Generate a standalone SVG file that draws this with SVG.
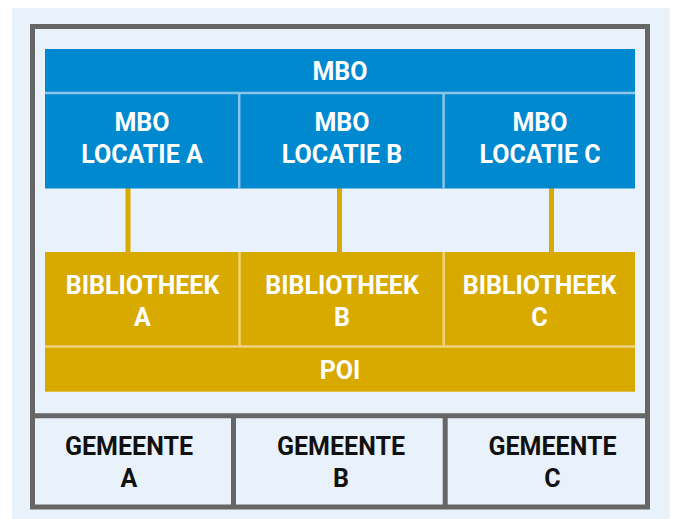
<svg xmlns="http://www.w3.org/2000/svg" width="675" height="519" viewBox="0 0 675 519">
<style>
  .t { font-family: Roboto, "Liberation Sans", sans-serif; font-weight: bold; font-size: 25px; text-anchor: middle; }
  .w { fill: #ffffff; }
  .k { fill: #111111; }
  .blue { fill: #0089cf; }
  .gold { fill: #d8aa00; }
  .sepb { stroke: #8cc4ea; stroke-width: 2.5; fill: none; }
  .sepg { stroke: #efd27c; stroke-width: 2.5; fill: none; }
  .frame { stroke: #666666; stroke-width: 5; fill: none; }
  .conn { stroke: #d8aa00; stroke-width: 5; fill: none; }
</style>
<rect x="0" y="0" width="675" height="519" fill="#ffffff"/>
<rect x="12" y="8" width="658" height="511" fill="#e9f1fa"/>

<g id="frame">
  <rect class="frame" x="32.5" y="26.5" width="615" height="480.5"/>
  <line class="frame" x1="32.5" y1="415.8" x2="647.5" y2="415.8"/>
  <line class="frame" x1="233.5" y1="415.8" x2="233.5" y2="507"/>
  <line class="frame" x1="445.2" y1="415.8" x2="445.2" y2="507"/>
</g>

<g id="connectors">
  <line class="conn" x1="128" y1="188" x2="128" y2="253"/>
  <line class="conn" x1="339.5" y1="188" x2="339.5" y2="253"/>
  <line class="conn" x1="551.5" y1="188" x2="551.5" y2="253"/>
</g>

<g id="mbo">
  <rect class="blue" x="45" y="49" width="590" height="43.5"/>
  <text class="t w" x="340" y="80">MBO</text>
</g>
<g id="mbo-locatie-a">
  <rect class="blue" x="45" y="92.5" width="194" height="96"/>
  <text class="t w" x="142" y="131">MBO</text>
  <text class="t w" x="142" y="163">LOCATIE A</text>
</g>
<g id="mbo-locatie-b">
  <rect class="blue" x="239" y="92.5" width="204.5" height="96"/>
  <text class="t w" x="342" y="131">MBO</text>
  <text class="t w" x="342" y="163">LOCATIE B</text>
</g>
<g id="mbo-locatie-c">
  <rect class="blue" x="443.5" y="92.5" width="191.5" height="96"/>
  <text class="t w" x="540" y="131">MBO</text>
  <text class="t w" x="540" y="163">LOCATIE C</text>
</g>
<g id="blue-separators">
  <line class="sepb" x1="45" y1="93" x2="635" y2="93"/>
  <line class="sepb" x1="239.2" y1="93" x2="239.2" y2="188.5"/>
  <line class="sepb" x1="443.6" y1="93" x2="443.6" y2="188.5"/>
</g>

<g id="bibliotheek-a">
  <rect class="gold" x="45" y="252" width="194" height="95"/>
  <text class="t w" x="142.5" y="293.5">BIBLIOTHEEK</text>
  <text class="t w" x="142.5" y="326">A</text>
</g>
<g id="bibliotheek-b">
  <rect class="gold" x="239" y="252" width="204.5" height="95"/>
  <text class="t w" x="342" y="293.5">BIBLIOTHEEK</text>
  <text class="t w" x="342" y="326">B</text>
</g>
<g id="bibliotheek-c">
  <rect class="gold" x="443.5" y="252" width="191.5" height="95"/>
  <text class="t w" x="539.5" y="293.5">BIBLIOTHEEK</text>
  <text class="t w" x="539.5" y="326">C</text>
</g>
<g id="poi">
  <rect class="gold" x="45" y="347" width="590" height="44.7"/>
  <text class="t w" x="340" y="378.5">POI</text>
</g>
<g id="gold-separators">
  <line class="sepg" x1="45" y1="346.6" x2="635" y2="346.6"/>
  <line class="sepg" x1="239.5" y1="252" x2="239.5" y2="346"/>
  <line class="sepg" x1="443.7" y1="252" x2="443.7" y2="346"/>
</g>

<g id="gemeente-a">
  <text class="t k" x="129" y="455">GEMEENTE</text>
  <text class="t k" x="129" y="487">A</text>
</g>
<g id="gemeente-b">
  <text class="t k" x="341" y="455">GEMEENTE</text>
  <text class="t k" x="341" y="487">B</text>
</g>
<g id="gemeente-c">
  <text class="t k" x="552.5" y="455">GEMEENTE</text>
  <text class="t k" x="552.5" y="487">C</text>
</g>
</svg>
